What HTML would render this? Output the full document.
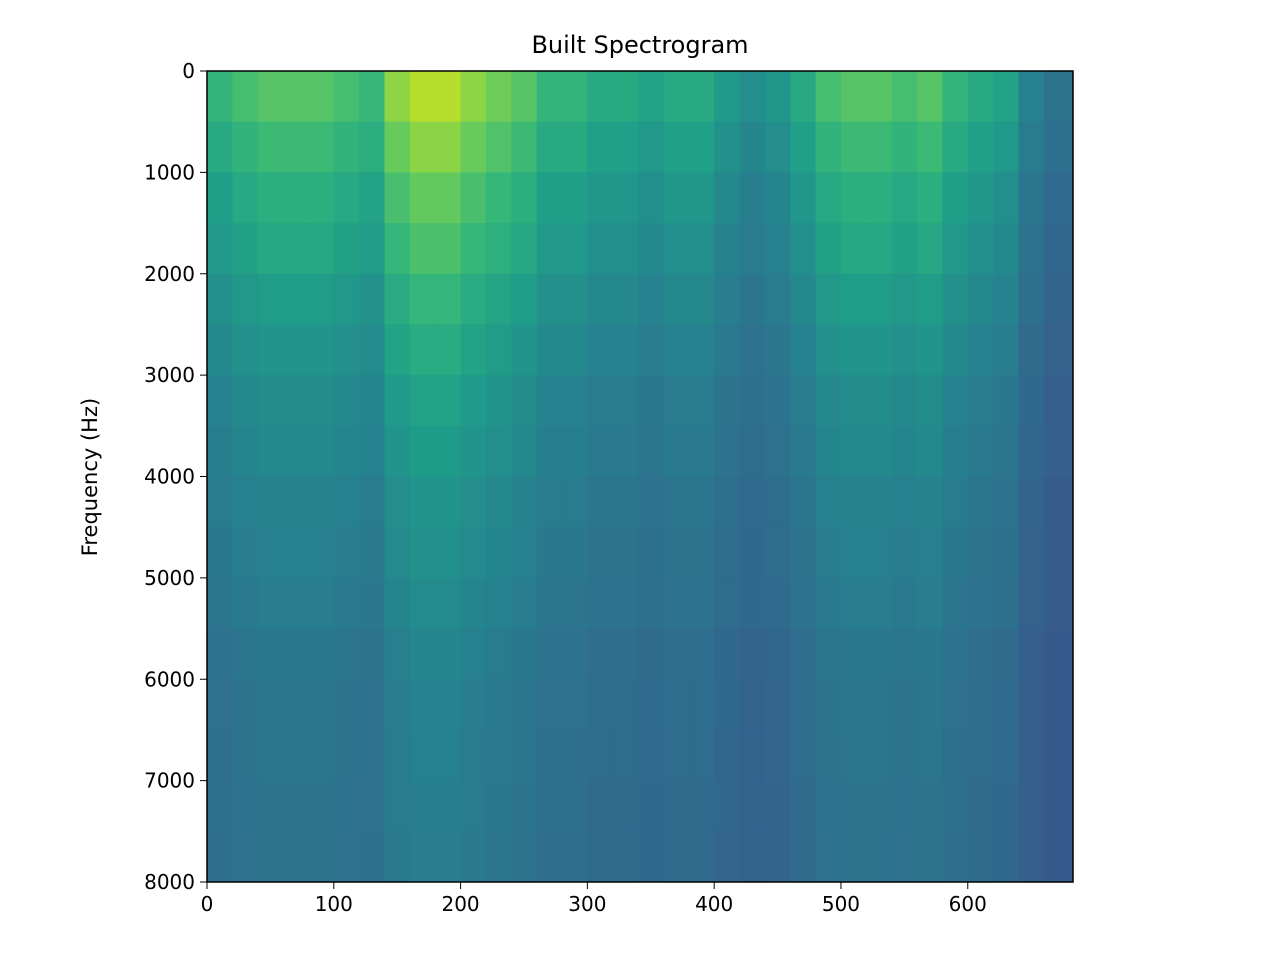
<!DOCTYPE html>
<html><head><meta charset="utf-8"><style>
body{margin:0;background:#fff;}
svg text{font-family:"DejaVu Sans","Liberation Sans",sans-serif;fill:#000;}
</style></head><body>
<svg id="chart" width="1280" height="960" viewBox="0 0 1280 960" xmlns="http://www.w3.org/2000/svg">
<text x="640" y="53" font-size="24" text-anchor="middle">Built Spectrogram</text>
<g id="cells"></g>
<rect x="207" y="71" width="866" height="811" fill="none" stroke="#000" stroke-width="1.5"/>
<g id="axes"></g>
<text transform="translate(97,477) rotate(-90)" font-size="21" text-anchor="middle">Frequency (Hz)</text>
</svg>
<script>
// time bins start (20 units each)
const timeBins = [0,20,40,60,80,100,120,140,160,180,200,220,240,260,280,300,320,340,360,380,400,420,440,460,480,500,520,540,560,580,600,620,640,660];
const colEnergy = [0.45,0.48,0.5,0.5,0.5,0.48,0.46,0.56,0.6,0.6,0.56,0.53,0.5,0.45,0.45,0.42,0.42,0.4,0.42,0.42,0.38,0.35,0.37,0.42,0.48,0.5,0.5,0.48,0.5,0.45,0.42,0.4,0.32,0.28];
// frequency bins (500 Hz each)
const freqBins = [0,500,1000,1500,2000,2500,3000,3500,4000,4500,5000,5500,6000,6500,7000,7500];
const freqGain = [1.6,1.45,1.3,1.2,1.05,0.95,0.85,0.78,0.72,0.66,0.6,0.56,0.52,0.5,0.48,0.46];
const freqBoost = [0.1,0.08,0.06,0.05,0.04,0.03,0.02,0.02,0.01,0.01,0.01,0,0,0,0,0];
const xTicks = [0,100,200,300,400,500,600];
const yTicks = [0,1000,2000,3000,4000,5000,6000,7000,8000];

const X0=207,X1=1073,Y0=71,Y1=882,XMAX=683,FMAX=8000;
const xs=v=>X0+(v/XMAX)*(X1-X0);
const ys=v=>Y0+(v/FMAX)*(Y1-Y0);
const vir=[[68,1,84],[72,40,120],[62,74,137],[49,104,142],[38,130,142],[31,158,137],[53,183,121],[109,205,89],[180,222,44],[253,231,37]];
function cmap(t){t=Math.max(0,Math.min(1,t))*(vir.length-1);const i=Math.min(vir.length-2,Math.floor(t)),f=t-i;
 const c=vir[i].map((a,k)=>Math.round(a+(vir[i+1][k]-a)*f));return `rgb(${c})`;}
const NS="http://www.w3.org/2000/svg";
const g=document.getElementById('cells');
timeBins.forEach((t,i)=>{
 const t2=i<timeBins.length-1?timeBins[i+1]:XMAX;
 freqBins.forEach((f,j)=>{
  const f2=j<freqBins.length-1?freqBins[j+1]:FMAX;
  const r=document.createElementNS(NS,'rect');
  r.setAttribute('x',xs(t));r.setAttribute('y',ys(f));
  r.setAttribute('width',xs(t2)-xs(t)+0.5);r.setAttribute('height',ys(f2)-ys(f)+0.5);
  r.setAttribute('fill',cmap(0.28+(colEnergy[i]-0.28)*freqGain[j]+freqBoost[j]));
  
  
  g.appendChild(r);
 });
});
const ax=document.getElementById('axes');
xTicks.forEach(v=>{
 const l=document.createElementNS(NS,'line');
 l.setAttribute('x1',xs(v));l.setAttribute('x2',xs(v));l.setAttribute('y1',Y1);l.setAttribute('y2',Y1+7);l.setAttribute('stroke','#000');
 
 
 ax.appendChild(l);
 const tx=document.createElementNS(NS,'text');
 tx.setAttribute('x',xs(v));tx.setAttribute('y',Y1+29);tx.setAttribute('font-size','20');tx.setAttribute('text-anchor','middle');
 tx.textContent=v;
 
 
 ax.appendChild(tx);
});
yTicks.forEach(v=>{
 const l=document.createElementNS(NS,'line');
 l.setAttribute('x1',X0-7);l.setAttribute('x2',X0);l.setAttribute('y1',ys(v));l.setAttribute('y2',ys(v));l.setAttribute('stroke','#000');
 
 
 ax.appendChild(l);
 const tx=document.createElementNS(NS,'text');
 tx.setAttribute('x',X0-12);tx.setAttribute('y',ys(v)+7);tx.setAttribute('font-size','20');tx.setAttribute('text-anchor','end');
 tx.textContent=v;
 
 
 ax.appendChild(tx);
});
</script>
</body></html>
